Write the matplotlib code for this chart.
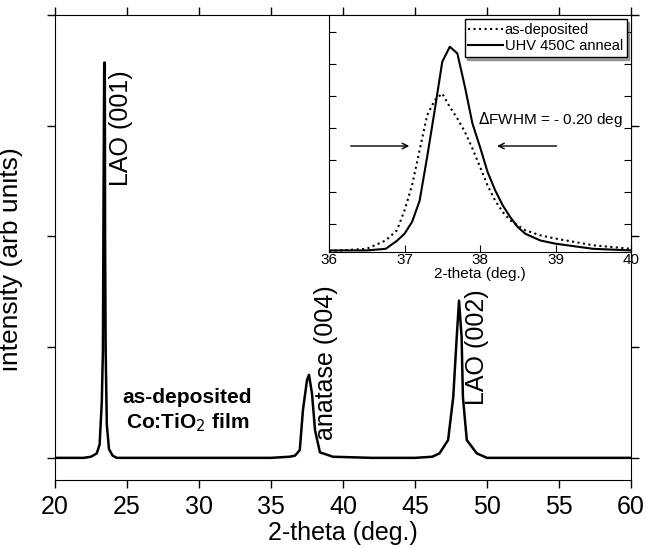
import numpy as np
import matplotlib
matplotlib.use("Agg")
import matplotlib.pyplot as plt

plt.rcParams['font.family'] = ['Liberation Sans', 'DejaVu Sans']

theta_main = [20.0, 21.0, 22.0, 22.5, 22.9, 23.1, 23.25, 23.33, 23.37, 23.42, 23.46, 23.48,
              23.52, 23.6, 23.75, 24.0, 24.3, 26.0, 30.0, 35.0, 36.3, 36.67, 37.0, 37.22,
              37.5, 37.64, 37.85, 38.06, 38.4, 39.3, 42.0, 45.0, 46.2, 46.7, 47.3, 47.66,
              47.9, 48.06, 48.24, 48.33, 48.6, 49.3, 50.0, 55.0, 60.0]
inten_main = [0.0, 0.0, 0.0, 0.01, 0.04, 0.12, 0.5, 0.97, 2.26, 3.57, 3.57, 1.98,
              0.97, 0.3, 0.08, 0.02, 0.0, 0.0, 0.0, 0.0, 0.01, 0.02, 0.07, 0.43,
              0.70, 0.75, 0.58, 0.25, 0.05, 0.01, 0.0, 0.0, 0.01, 0.04, 0.16, 0.55,
              1.09, 1.42, 1.09, 0.55, 0.16, 0.04, 0.0, 0.0, 0.0]

# --- datos del recuadro (pico anatase 004) ---
theta_ins = [36.0, 36.5, 36.75, 36.9, 37.0, 37.1, 37.2, 37.3, 37.4, 37.5, 37.6, 37.7,
             37.8, 37.9, 38.0, 38.1, 38.2, 38.3, 38.4, 38.5, 38.6, 38.8, 39.0, 39.5, 40.0]
as_dep = [0.03, 0.10, 0.36, 0.68, 1.30, 2.08, 3.18, 4.27, 4.74, 4.95, 4.53, 4.17,
          3.75, 3.23, 2.66, 2.08, 1.61, 1.25, 0.99, 0.83, 0.68, 0.52, 0.42, 0.21, 0.10]
anneal = [0.05, 0.05, 0.10, 0.35, 0.57, 0.94, 1.60, 2.97, 4.43, 5.94, 6.41, 6.20,
          5.16, 4.01, 3.28, 2.50, 1.93, 1.46, 1.09, 0.78, 0.57, 0.36, 0.26, 0.10, 0.05]

fig = plt.figure(figsize=(6.46, 5.48), dpi=100)
ax = fig.add_axes([0.0851, 0.1241, 0.8916, 0.8485])
ax.plot(theta_main, inten_main, 'k-', lw=1.8)
ax.set_xlim(20, 60)
ax.set_ylim(-0.2, 4.0)
ax.set_xticks(np.arange(20, 61, 5))
ax.set_yticks([0, 1, 2, 3, 4])
ax.set_yticklabels([])
ax.tick_params(direction='out', length=6, width=1, labelsize=18,
               top=True, right=True, pad=5)
ax.set_xlabel('2-theta (deg.)', fontsize=18, labelpad=1)
ax.set_ylabel('intensity (arb units)', fontsize=19)
ax.yaxis.set_label_coords(-0.055, 0.475)

ax.text(24.6, 3.5, 'LAO (001)', rotation=90, fontsize=18, ha='center', va='top')
ax.text(38.8, 1.56, 'anatase (004)', rotation=90, fontsize=18, ha='center', va='top')
ax.text(49.3, 1.52, 'LAO (002)', rotation=90, fontsize=18, ha='center', va='top')
ax.text(29.2, 0.42, 'as-deposited\nCo:TiO$_2$ film', fontsize=15, fontweight='bold',
        ha='center', va='center', linespacing=1.25)

# recuadro
ins = fig.add_axes([0.5093, 0.5401, 0.4675, 0.4325])
ins.plot(theta_ins, as_dep, 'k:', lw=1.5, label='as-deposited')
ins.plot(theta_ins, anneal, 'k-', lw=1.5, label='UHV 450C anneal')
ins.set_xlim(36, 40)
ins.set_ylim(0, 7.4)
ins.set_xticks([36, 37, 38, 39, 40])
ins.set_yticks(np.arange(0.86, 7.0, 1.0))
ins.set_yticklabels([])
ins.tick_params(direction='in', length=5, labelsize=11, right=True, pad=1)
ins.set_xlabel('2-theta (deg.)', fontsize=11, labelpad=0)
ins.legend(loc='upper right', fontsize=10.5, frameon=True, fancybox=False, shadow=True,
           edgecolor='black', framealpha=1, handlelength=2.4, borderpad=0.25,
           labelspacing=0.15, handletextpad=0.1, borderaxespad=0.3)
ins.text(38.94, 4.15, r'$\Delta$FWHM = - 0.20 deg', fontsize=11, ha='center', va='center')
ins.annotate('', xy=(37.1, 3.31), xytext=(36.25, 3.31),
             arrowprops=dict(arrowstyle='->', color='k', lw=1))
ins.annotate('', xy=(38.19, 3.31), xytext=(39.05, 3.31),
             arrowprops=dict(arrowstyle='->', color='k', lw=1))

fig.savefig('out.png', dpi=100)
